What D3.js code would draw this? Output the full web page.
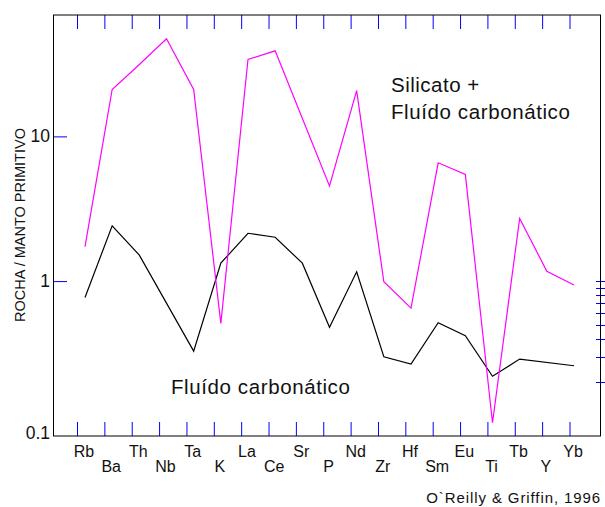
<!DOCTYPE html>
<html>
<head>
<meta charset="utf-8">
<script src="https://cdn.jsdelivr.net/npm/d3@7"></script>
<style>
  body { margin: 0; background: #fff; }
  svg { display: block; font-family: "Liberation Sans", Arial, sans-serif; }
</style>
</head>
<body>
<svg id="chart" width="605" height="507"></svg>
<script>
// elements of the spider diagram, in plotting order
const elements = ["Rb", "Ba", "Th", "Nb", "Ta", "K", "La", "Ce", "Sr", "P",
                  "Nd", "Zr", "Hf", "Sm", "Eu", "Ti", "Tb", "Y", "Yb"];

// rock / primitive mantle (null = no point)
const silicato = [1.73, 21.1, 31.4, 47.3, 21.1, 0.51, 34.0, 39.0, null, 4.54,
                  20.7, 0.99, 0.65, 6.57, 5.46, 0.105, 2.71, 1.17, 0.94];
const fluido = [0.77, 2.41, 1.51, null, 0.328, 1.33, 2.14, 2.01, 1.33, 0.479,
                1.16, 0.30, 0.267, 0.515, 0.419, 0.22, 0.289, null, 0.26];

const yTicks = [1, 10];
const yMinLabel = "0.1";
const rightTicks = [1, 0.9, 0.8, 0.7, 0.6, 0.5, 0.4, 0.3, 0.2];

const W = 605, H = 507;
const plotLeft = 53, plotRight = 600, plotTop = 15, plotBottom = 436;

const svg = d3.select("#chart");

const x = d3.scalePoint().domain(elements).range([85, 574]);
const xTick = d3.scalePoint().domain(elements).range([77, 569.5]);
const y = d3.scaleLog().domain([0.085, 69]).range([plotBottom, plotTop]);

const blue = "#0000ff";

// bottom and top ticks (pointing inward)
svg.append("g")
    .attr("transform", `translate(0,${plotBottom})`)
    .call(d3.axisBottom(xTick).tickSizeInner(-14).tickSizeOuter(0).tickFormat(""))
    .call(g => g.select(".domain").remove())
    .call(g => g.selectAll(".tick line").attr("stroke", blue));

svg.append("g")
    .attr("transform", `translate(0,${plotTop})`)
    .call(d3.axisTop(xTick).tickSizeInner(-14).tickSizeOuter(0).tickFormat(""))
    .call(g => g.select(".domain").remove())
    .call(g => g.selectAll(".tick line").attr("stroke", blue));

// left axis
svg.append("g")
    .attr("transform", `translate(${plotLeft},0)`)
    .call(d3.axisLeft(y).tickValues(yTicks).tickFormat(d3.format("~g"))
        .tickSizeInner(-14).tickSizeOuter(0).tickPadding(3))
    .call(g => g.select(".domain").remove())
    .call(g => g.selectAll(".tick line").attr("stroke", blue))
    .call(g => g.selectAll(".tick text")
        .attr("fill", "#111")
        .attr("font-size", "17.5px")
        .attr("font-family", "Liberation Sans, Arial, sans-serif"));

svg.append("text")
    .attr("x", plotLeft - 3)
    .attr("y", plotBottom - 3)
    .attr("text-anchor", "end")
    .attr("dy", "0.32em")
    .attr("font-size", "17.5px")
    .attr("fill", "#111")
    .text(yMinLabel);

// right side minor ticks (crossing the frame)
svg.append("g")
    .selectAll("line")
    .data(rightTicks)
    .join("line")
    .attr("x1", plotRight - 4)
    .attr("x2", plotRight + 5)
    .attr("y1", d => Math.round(y(d)) + 0.5)
    .attr("y2", d => Math.round(y(d)) + 0.5)
    .attr("stroke", blue);

// frame: left/right black, top/bottom soft grey
svg.append("line").attr("x1", plotLeft + 0.5).attr("x2", plotLeft + 0.5)
    .attr("y1", plotTop).attr("y2", plotBottom).attr("stroke", "#000");
svg.append("line").attr("x1", plotRight + 0.5).attr("x2", plotRight + 0.5)
    .attr("y1", plotTop).attr("y2", plotBottom).attr("stroke", "#000");
svg.append("line").attr("x1", plotLeft).attr("x2", plotRight + 1)
    .attr("y1", plotTop).attr("y2", plotTop).attr("stroke", "#000");
svg.append("line").attr("x1", plotLeft).attr("x2", plotRight + 1)
    .attr("y1", plotBottom).attr("y2", plotBottom).attr("stroke", "#000");

// element labels, alternating in two rows
svg.append("g")
    .selectAll("text")
    .data(elements)
    .join("text")
    .attr("x", d => x(d) - 1)
    .attr("y", (d, i) => i % 2 === 0 ? 457 : 472)
    .attr("text-anchor", "middle")
    .attr("font-size", "16px")
    .attr("fill", "#111")
    .text(d => d);

// y title
svg.append("text")
    .attr("transform", "translate(25,225) rotate(-90)")
    .attr("text-anchor", "middle")
    .attr("font-size", "14.5px")
    .attr("fill", "#111")
    .text("ROCHA / MANTO PRIMITIVO");

// series lines
const line = d3.line()
    .x(d => x(d.el))
    .y(d => y(d.v));

function points(values) {
    return elements.map((el, i) => ({ el, v: values[i] })).filter(d => d.v != null);
}

svg.append("path")
    .datum(points(fluido))
    .attr("fill", "none")
    .attr("stroke", "#000")
    .attr("stroke-width", 1.2)
    .attr("d", line);

svg.append("path")
    .datum(points(silicato))
    .attr("fill", "none")
    .attr("stroke", "#ff00ff")
    .attr("stroke-width", 1.2)
    .attr("d", line);

// annotations
svg.append("text")
    .attr("x", 391).attr("y", 92)
    .attr("font-size", "20.5px").attr("letter-spacing", "0.5px")
    .attr("fill", "#111")
    .text("Silicato +");
svg.append("text")
    .attr("x", 391).attr("y", 119)
    .attr("font-size", "20.5px").attr("letter-spacing", "0.6px")
    .attr("fill", "#111")
    .text("Fluído carbonático");
svg.append("text")
    .attr("x", 171).attr("y", 394)
    .attr("font-size", "20.5px").attr("letter-spacing", "0.6px")
    .attr("fill", "#111")
    .text("Fluído carbonático");

svg.append("text")
    .attr("x", 601).attr("y", 503)
    .attr("text-anchor", "end")
    .attr("font-size", "15px").attr("letter-spacing", "0.9px")
    .attr("fill", "#111")
    .text("O`Reilly & Griffin, 1996");
</script>
</body>
</html>
